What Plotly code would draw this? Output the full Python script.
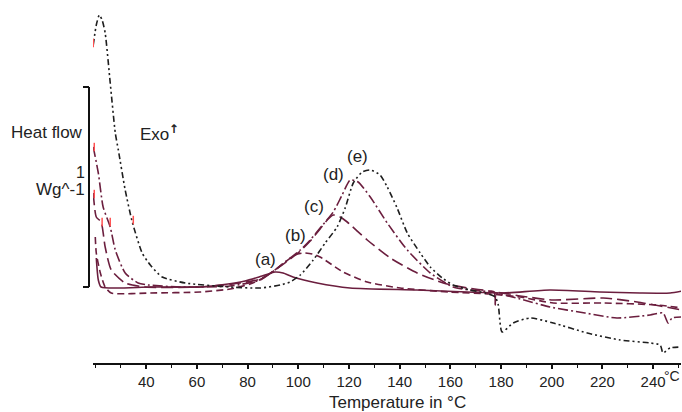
import plotly.graph_objects as go

# ---- data (Temperature in °C, heat flow in W/g) ----
T_a = [20.3, 21.1, 22.2, 41.6, 61.3, 69.2, 79.0, 85.7, 90.8, 94.0, 97.9, 107.4, 120.4, 146.8, 166.6, 180.8, 199.3, 219.0, 234.8, 246.7, 251.4]
H_a = [0.145, 0.035, 0.0, 0.0, 0.0, 0.01, 0.03, 0.055, 0.075, 0.07, 0.05, 0.02, -0.005, -0.015, -0.025, -0.03, -0.015, -0.025, -0.03, -0.03, -0.02]

T_b = [19.9, 20.3, 21.9, 23.8, 26.2, 41.6, 61.3, 73.1, 81.0, 86.9, 90.8, 94.8, 98.7, 101.9, 105.5, 108.6, 117.7, 127.2, 140.2, 159.9, 175.7, 187.5, 200.6, 220.3, 241.6, 251.4]
H_b = [0.25, 0.17, 0.07, 0.0, -0.03, -0.03, -0.025, -0.01, 0.015, 0.05, 0.085, 0.125, 0.16, 0.17, 0.165, 0.15, 0.075, 0.025, -0.005, -0.025, -0.035, -0.05, -0.08, -0.08, -0.09, -0.105]

T_c = [19.1, 20.3, 22.2, 23.8, 26.2, 31.7, 39.6, 61.3, 77.1, 85.0, 89.7, 96.8, 100.8, 104.7, 108.6, 111.8, 113.8, 116.5, 119.3, 127.2, 136.3, 146.9, 157.2, 166.6, 175.7, 177.3, 177.7, 178.1, 187.5, 200.6, 220.3, 233.7, 242.8, 251.4]
H_c = [0.47, 0.35, 0.325, 0.2, 0.085, 0.02, 0.0, 0.0, 0.02, 0.04, 0.075, 0.14, 0.18, 0.23, 0.29, 0.34, 0.36, 0.35, 0.325, 0.235, 0.145, 0.07, 0.02, -0.005, -0.02, -0.025, -0.09, -0.03, -0.045, -0.065, -0.055, -0.075, -0.095, -0.115]

T_d = [19.1, 21.1, 23.0, 25.8, 27.8, 31.7, 36.8, 40.8, 53.4, 73.1, 85.0, 89.7, 96.8, 100.8, 104.7, 108.6, 113.8, 117.3, 120.5, 123.6, 128.4, 135.1, 143.0, 152.1, 161.1, 167.8, 176.5, 187.5, 199.3, 213.1, 225.7, 238.8, 243.9, 245.9, 247.5, 251.4]
H_d = [0.70, 0.57, 0.40, 0.30, 0.185, 0.07, 0.02, 0.01, 0.0, 0.005, 0.035, 0.075, 0.145, 0.185, 0.235, 0.295, 0.375, 0.46, 0.535, 0.525, 0.45, 0.32, 0.185, 0.07, 0.0, -0.015, -0.025, -0.06, -0.10, -0.13, -0.155, -0.14, -0.13, -0.18, -0.155, -0.15]

T_e = [19.1, 20.3, 21.5, 22.6, 23.8, 25.8, 27.8, 29.0, 31.7, 34.5, 38.4, 41.6, 46.3, 55.4, 73.1, 85.0, 92.9, 96.8, 100.8, 105.9, 110.6, 115.3, 118.5, 121.7, 125.2, 128.4, 132.3, 135.1, 139.0, 143.0, 148.1, 152.1, 156.8, 161.1, 167.8, 173.7, 177.7, 178.9, 180.4, 184.8, 191.5, 200.6, 214.0, 227.0, 238.8, 242.8, 243.9, 246.7, 251.4]
H_e = [1.21, 1.31, 1.36, 1.335, 1.27, 1.02, 0.77, 0.685, 0.485, 0.325, 0.17, 0.11, 0.05, 0.02, 0.0, -0.005, 0.01, 0.025, 0.06, 0.135, 0.22, 0.30, 0.395, 0.52, 0.575, 0.585, 0.56, 0.50, 0.395, 0.27, 0.17, 0.10, 0.045, 0.01, -0.015, -0.03, -0.05, -0.09, -0.225, -0.18, -0.155, -0.18, -0.23, -0.265, -0.28, -0.29, -0.33, -0.305, -0.30]

mark_T = [19.1, 19.5, 19.5, 22.6, 25.8, 34.9]
mark_H = [1.22, 0.70, 0.465, 0.325, 0.325, 0.335]

labels = ["(a)", "(b)", "(c)", "(d)", "(e)"]
label_T = [87.0, 98.8, 106.0, 113.8, 123.3]
label_H = [0.14, 0.26, 0.405, 0.565, 0.655]

x_ticks = [40, 60, 80, 100, 120, 140, 160, 180, 200, 220, 240]
x_ticktext = ["40", "60", "80", "100", "120", "140", "160", "180", "200", "220", "240"]

MAROON = "#6b1e3e"
BLACK = "#1e1e1e"
FONT = "Liberation Sans, Arial, sans-serif"

series = [
    (T_a, H_a, MAROON, "solid"),
    (T_b, H_b, MAROON, "7px,4px"),
    (T_c, H_c, MAROON, "12px,5px"),
    (T_d, H_d, MAROON, "10px,3px,2px,3px"),
    (T_e, H_e, BLACK, "6px,3px,2px,3px,2px,3px"),
]

fig = go.Figure()
for T, H, col, dash in series:
    fig.add_trace(go.Scatter(x=T, y=H, mode="lines",
                             line=dict(color=col, width=1.6, dash=dash, shape="spline", smoothing=0.6),
                             showlegend=False, hoverinfo="skip"))

fig.add_trace(go.Scatter(x=mark_T, y=mark_H, mode="markers",
                         marker=dict(symbol="line-ns-open", size=6, color="#ff5050",
                                     line=dict(color="#ff5050", width=1.5)),
                         showlegend=False, hoverinfo="skip"))

for txt, tx, hy in zip(labels, label_T, label_H):
    fig.add_annotation(x=tx, y=hy, text=txt, showarrow=False,
                       font=dict(family=FONT, size=17, color="#222222"))

# left-side texts
fig.add_annotation(xref="paper", yref="paper", x=-0.013, y=0.6425, text="Heat flow",
                   xanchor="right", yanchor="middle", showarrow=False,
                   font=dict(family=FONT, size=17, color="#222222"))
fig.add_annotation(xref="paper", yref="paper", x=0.0765, y=0.6425,
                   text="Exo<sup><span style='font-family:DejaVu Sans;color:#222222'><b>↑</b></span></sup>",
                   xanchor="left", yanchor="middle", showarrow=False,
                   font=dict(family=FONT, size=17, color="#222222"))
fig.add_annotation(xref="paper", yref="paper", x=-0.011, y=0.486, text="Wg^-1",
                   xanchor="right", yanchor="middle", showarrow=False,
                   font=dict(family=FONT, size=17, color="#222222"))
fig.add_annotation(xref="paper", yref="paper", x=-0.022, y=0.533, text="1",
                   xanchor="center", yanchor="middle", showarrow=False,
                   font=dict(family=FONT, size=16, color="#222222"))
fig.add_annotation(xref="paper", yref="paper", x=0.5187, y=-0.109, text="Temperature in °C",
                   xanchor="center", yanchor="middle", showarrow=False,
                   font=dict(family=FONT, size=17, color="#222222"))
fig.add_annotation(xref="paper", yref="paper", x=0.984, y=-0.035, text="°C",
                   xanchor="center", yanchor="middle", showarrow=False,
                   font=dict(family=FONT, size=14, color="#222222"))

# scale bar "]" for 1 W/g
for x0, y0, x1, y1 in [(-0.0068, 0.2123, -0.0068, 0.771),
                       (-0.017, 0.771, -0.0068, 0.771),
                       (-0.017, 0.2123, -0.0068, 0.2123)]:
    fig.add_shape(type="line", xref="paper", yref="paper", x0=x0, y0=y0, x1=x1, y1=y1,
                  line=dict(color="#111111", width=2))

fig.update_layout(
    width=682, height=412,
    margin=dict(l=93, r=1, t=5, b=49),
    paper_bgcolor="white", plot_bgcolor="white",
    font=dict(family=FONT, color="#222222"),
    xaxis=dict(range=[19, 251], tickvals=x_ticks, ticktext=x_ticktext,
               showline=True, linecolor="#111111", linewidth=2,
               ticks="outside", ticklen=4, tickwidth=1.5, tickcolor="#111111",
               minor=dict(tick0=20, dtick=10, ticks="outside", ticklen=3, tickwidth=1.2, tickcolor="#111111"),
               showgrid=False, zeroline=False,
               tickfont=dict(family=FONT, size=15, color="#222222")),
    yaxis=dict(range=[-0.38, 1.41], visible=False),
)

fig.write_html("out.html", config={"displayModeBar": False},
               post_script="document.body.style.margin='0';document.body.style.padding='0';")
